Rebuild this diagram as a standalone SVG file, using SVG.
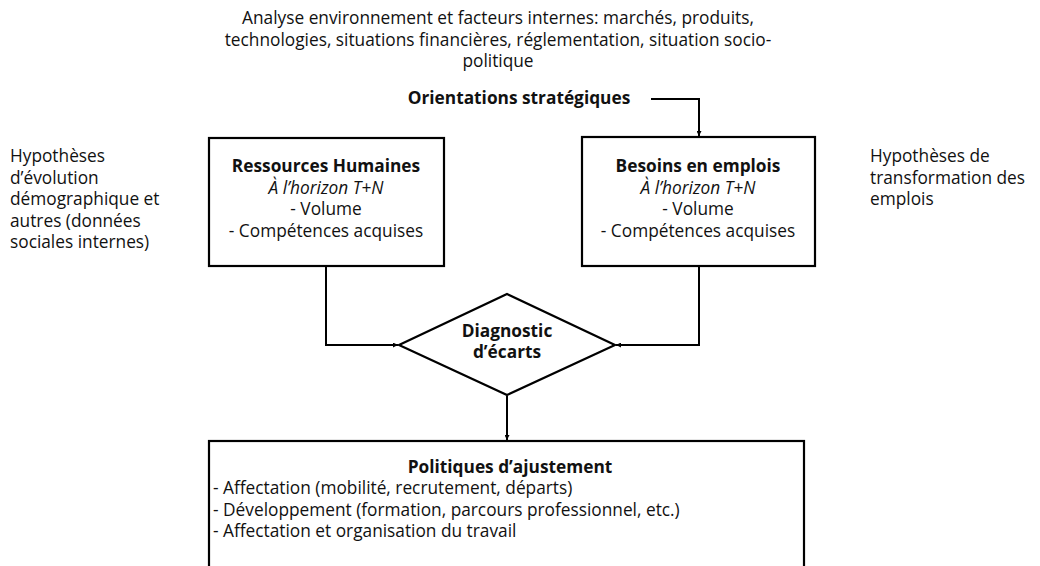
<svg xmlns="http://www.w3.org/2000/svg" width="1040" height="566" viewBox="0 0 1040 566">
<style>
text{font-family:"Open Sans","Liberation Sans",sans-serif;font-size:17.3px;fill:#111}
.c{text-anchor:middle}
.b{font-weight:bold}
.i{font-style:italic}
.box{fill:#fff;stroke:#000;stroke-width:2.2}
.ln{fill:none;stroke:#000;stroke-width:2}
</style>
<defs>
<marker id="ah" viewBox="0 0 10 10" refX="10" refY="5" markerWidth="5" markerHeight="5" orient="auto" markerUnits="userSpaceOnUse">
<path d="M0,0 L10,5 L0,10 z" fill="#000"/>
</marker>
</defs>
<rect width="1040" height="566" fill="#fff"/>
<g id="context">
<text class="c" x="498" y="24">Analyse environnement et facteurs internes: marchés, produits,</text>
<text class="c" x="498" y="46">technologies, situations financières, réglementation, situation socio-</text>
<text class="c" x="498" y="67">politique</text>
</g>
<g id="orientations">
<text class="c b" x="519" y="104">Orientations stratégiques</text>
</g>
<g id="hyp-left">
<text x="10" y="162">Hypothèses</text>
<text x="10" y="183.5">d’évolution</text>
<text x="10" y="205">démographique  et</text>
<text x="10" y="226.5">autres (données</text>
<text x="10" y="248">sociales internes)</text>
</g>
<g id="hyp-right">
<text x="870" y="162">Hypothèses de</text>
<text x="870" y="183.5">transformation des</text>
<text x="870" y="205">emplois</text>
</g>
<g id="rh">
<rect class="box" x="209" y="138" width="235" height="128"/>
<text class="c b" x="326" y="172">Ressources Humaines</text>
<text class="c i" x="326" y="193.5">À l’horizon T+N</text>
<text class="c" x="326" y="215">- Volume</text>
<text class="c" x="326" y="236.5">- Compétences acquises</text>
</g>
<g id="besoins">
<rect class="box" x="582" y="137" width="233" height="129"/>
<text class="c b" x="698" y="172">Besoins en emplois</text>
<text class="c i" x="698" y="193.5">À l’horizon T+N</text>
<text class="c" x="698" y="215">- Volume</text>
<text class="c" x="698" y="236.5">- Compétences acquises</text>
</g>
<g id="diagnostic">
<polygon class="box" points="507,294 615,345 507,395 399,345"/>
<text class="c b" x="507" y="337">Diagnostic</text>
<text class="c b" x="507" y="358">d’écarts</text>
</g>
<g id="politiques">
<rect class="box" x="209" y="441" width="595" height="140"/>
<text class="c b" x="510" y="473">Politiques d’ajustement</text>
<text x="213" y="494">- Affectation (mobilité, recrutement, départs)</text>
<text x="213" y="515.5">- Développement (formation, parcours professionnel, etc.)</text>
<text x="213" y="537">- Affectation et organisation du travail</text>
</g>
<g id="connectors">
<path class="ln" d="M651,99 H699 V136" marker-end="url(#ah)"/>
<path class="ln" d="M326,267 V345 H398" marker-end="url(#ah)"/>
<path class="ln" d="M699,267 V345 H616" marker-end="url(#ah)"/>
<path class="ln" d="M507,396 V440" marker-end="url(#ah)"/>
</g>
</svg>
